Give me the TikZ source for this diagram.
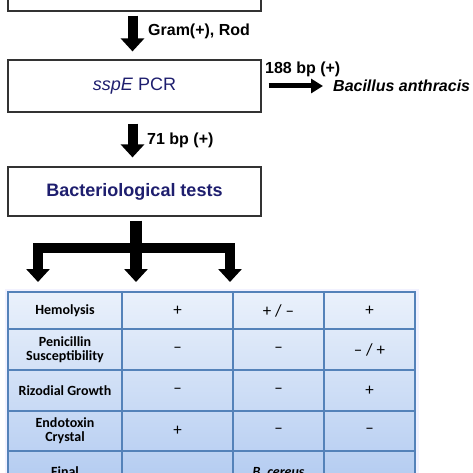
\documentclass[tikz,border=0pt]{standalone}
\usepackage{fontspec}
\setmainfont{Liberation Sans}
\newfontfamily\cellfont{Carlito}
\usetikzlibrary{arrows.meta}
\definecolor{navytxt}{RGB}{30,30,110}
\definecolor{gridblue}{RGB}{84,130,185}
\definecolor{celltop}{RGB}{234,241,251}
\definecolor{cellbot}{RGB}{180,204,241}

\begin{document}
\begin{tikzpicture}[x=1pt, y=-1pt,
  box/.style={rectangle, draw=black!80, line width=1.2pt,
              minimum width=253pt, inner sep=0pt},
  blk/.style={line width=10pt, -{Triangle[length=13pt, width=23pt]}},
  slim/.style={line width=5pt, -{Triangle[length=12pt, width=14pt]}},
  lbl/.style={font=\bfseries\fontsize{16}{18}\selectfont, inner sep=0pt},
  grid line/.style={draw=gridblue, line width=1.6pt},
  cell/.style={font=\cellfont\bfseries\fontsize{14}{14}\selectfont,
               align=center, inner sep=0pt},
  sign/.style={font=\cellfont\fontsize{17}{18}\selectfont, inner sep=0pt}
]
\useasboundingbox (0,0) rectangle (473,473);
\clip (0,0) rectangle (473,473);
% flow boxes
\node[box, minimum height=52pt] (isol) at (134.5,-15) {};
\node[box, minimum height=52pt, text=navytxt,
      font=\fontsize{18}{20}\selectfont] (pcr) at (134.5,86)
  {\textit{sspE} PCR};
\node[box, minimum height=49pt, text=navytxt,
      font=\bfseries\fontsize{18}{20}\selectfont] (bact) at (134.5,191.5)
  {Bacteriological tests};
% labels
\node[lbl, anchor=west] (gram) at (148,31) {Gram(+), Rod};
\node[lbl, anchor=west] (bp188) at (265,69) {188 bp (+)};
\node[lbl, anchor=west] (bp71) at (147,140) {71 bp (+)};
\node[lbl, anchor=west, font=\bfseries\itshape\fontsize{16}{18}\selectfont]
  (anth) at (333,86) {Bacillus anthracis};
% arrows
\draw[blk] ([xshift=-2pt, yshift=-4pt]isol.south)
  -- ([xshift=-2pt, yshift=8pt]pcr.north);
\draw[blk] ([xshift=-2pt, yshift=-11pt]pcr.south)
  -- ([xshift=-2pt, yshift=9pt]bact.north);
\draw[slim] ([xshift=7pt]pcr.east) -- ([xshift=-10pt]anth.west);
% branching
\coordinate (fork) at (136,248);
\coordinate (forkL) at (38,248);
\coordinate (forkR) at (230,248);
\coordinate (stemtop) at (bact.south -| fork);
\coordinate (tipL) at (38,282);
\coordinate (tipM) at (136,282);
\coordinate (tipR) at (230,282);
\draw[line width=12pt] ([yshift=-4pt]stemtop) -- ([yshift=-5pt]fork);
\draw[line width=10pt] ([xshift=-5pt]forkL) -- ([xshift=5pt]forkR);
\draw[blk] ([yshift=5pt]forkL) -- (tipL);
\draw[blk, line width=12pt] (fork) -- (tipM);
\draw[blk] ([yshift=5pt]forkR) -- (tipR);
% table
\draw[line width=7pt, blue!5] (8,292) rectangle (415,490);
\shade[top color=celltop, bottom color=cellbot] (8,292) rectangle (415,480);
\draw[grid line] (8,292) rectangle (415,490)
  (8,329) -- (415,329) (8,370) -- (415,370)
  (8,411) -- (415,411) (8,451) -- (415,451);
\draw[grid line, line width=2.2pt] (122,292) -- (122,490)
  (233,292) -- (233,490) (324,292) -- (324,490);
% table texts
\node[cell] (hemo) at (65,310.5) {Hemolysis};
\node[sign] (hemoA) at (177.5,310.5) {+};
\node[sign] (hemoB) at (278.5,310.5) {+~/~–};
\node[sign] (hemoC) at (369.5,310.5) {+};
\node[cell] (peni) at (65,349.5) {Penicillin\\Susceptibility};
\node[sign] (peniA) at (177.5,349.5) {–};
\node[sign] (peniB) at (278.5,349.5) {–};
\node[sign] (peniC) at (369.5,349.5) {–~/~+};
\node[cell] (rhiz) at (65,390.5) {Rizodial Growth};
\node[sign] (rhizA) at (177.5,390.5) {–};
\node[sign] (rhizB) at (278.5,390.5) {–};
\node[sign] (rhizC) at (369.5,390.5) {+};
\node[cell] (endo) at (65,431) {Endotoxin\\Crystal};
\node[sign] (endoA) at (177.5,431) {+};
\node[sign] (endoB) at (278.5,431) {–};
\node[sign] (endoC) at (369.5,431) {–};
\node[cell, anchor=base] (final) at (65,476) {Final};
\node[cell, anchor=base, font=\cellfont\bfseries\itshape\fontsize{14}{14}\selectfont]
  (finalB) at (278.5,476) {B. cereus};
\end{tikzpicture}
\end{document}
